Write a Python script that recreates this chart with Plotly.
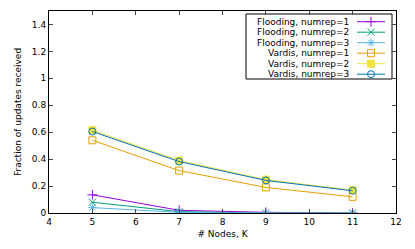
import plotly.graph_objects as go

nodes = [5, 7, 9, 11]
flood1 = [0.135, 0.02, 0.005, 0.0]
flood2 = [0.08, 0.01, 0.0, 0.0]
flood3 = [0.04, 0.005, 0.0, 0.0]
vardis1 = [0.54, 0.315, 0.19, 0.12]
vardis2 = [0.615, 0.39, 0.248, 0.17]
vardis3 = [0.605, 0.382, 0.242, 0.165]

names = ["Flooding, numrep=1", "Flooding, numrep=2", "Flooding, numrep=3",
         "Vardis, numrep=1", "Vardis, numrep=2", "Vardis, numrep=3"]
series = [flood1, flood2, flood3, vardis1, vardis2, vardis3]
colors = ["#9400D3", "#009E73", "#56B4E9", "#E69F00", "#F0E442", "#0072B2"]
symbols = ["cross-thin-open", "x-thin-open", "asterisk-open", "square-open", "square", "circle-open"]
msize = 7

W, H = 415, 249
ML, MR, MT, MB = 49, 19, 11, 36
PW, PH = W - ML - MR, H - MT - MB

def px_x(px):
    return (px - ML) / PW

def px_y(py):
    return (H - MB - py) / PH

font = "DejaVu Sans, Arial, sans-serif"
fig = go.Figure()
for n, s, c, sym in zip(names, series, colors, symbols):
    fig.add_trace(go.Scatter(
        x=nodes, y=s, name=n, mode="lines+markers", showlegend=False,
        line=dict(color=c, width=1),
        marker=dict(symbol=sym, size=msize, color=c, line=dict(color=c, width=1)),
    ))

# gnuplot-style key: text right-aligned, sample line + marker on the right
row0, row_step = 21.7, 10.5
for i, (n, c, sym) in enumerate(zip(names, colors, symbols)):
    yy = px_y(row0 + row_step * i)
    fig.add_trace(go.Scatter(
        x=[px_x(357), px_x(385)], y=[yy, yy], mode="lines", xaxis="x2", yaxis="y2",
        showlegend=False, hoverinfo="skip", line=dict(color=c, width=1)))
    fig.add_trace(go.Scatter(
        x=[px_x(371)], y=[yy], mode="markers", xaxis="x2", yaxis="y2",
        showlegend=False, hoverinfo="skip",
        marker=dict(symbol=sym, size=msize, color=c, line=dict(color=c, width=1))))
    fig.add_annotation(x=px_x(351), y=yy, xref="paper", yref="paper", text=n,
                       showarrow=False, xanchor="right", yanchor="middle",
                       font=dict(family=font, size=9, color="black"))

fig.add_shape(type="rect", xref="paper", yref="paper",
              x0=px_x(246), x1=px_x(392), y0=px_y(79), y1=px_y(14),
              line=dict(color="black", width=1), fillcolor="white", layer="below")

fig.update_layout(
    width=W, height=H,
    margin=dict(l=ML, r=MR, t=MT, b=MB),
    plot_bgcolor="white", paper_bgcolor="white",
    font=dict(family=font, size=9, color="black"),
    showlegend=False,
    xaxis=dict(range=[4, 12], dtick=1, tick0=4, ticks="inside", ticklen=4,
               showline=True, linecolor="black", linewidth=1, mirror="ticks",
               showgrid=False, zeroline=False, automargin=False,
               title=dict(text="# Nodes, K", font=dict(size=9), standoff=4)),
    yaxis=dict(range=[0, 1.5], ticks="inside", ticklen=4,
               showline=True, linecolor="black", linewidth=1, mirror="ticks",
               showgrid=False, zeroline=False, automargin=False,
               tickvals=[0, 0.2, 0.4, 0.6, 0.8, 1.0, 1.2, 1.4],
               ticktext=["0", "0.2", "0.4", "0.6", "0.8", "1", "1.2", "1.4"],
               title=dict(text="Fraction of updates received", font=dict(size=9), standoff=8)),
    xaxis2=dict(overlaying="x", range=[0, 1], visible=False, anchor="y2"),
    yaxis2=dict(overlaying="y", range=[0, 1], visible=False, anchor="x2"),
)

fig.write_html("out.html", config={"displayModeBar": False},
               post_script="document.body.style.margin='0';document.body.style.overflow='hidden';")
